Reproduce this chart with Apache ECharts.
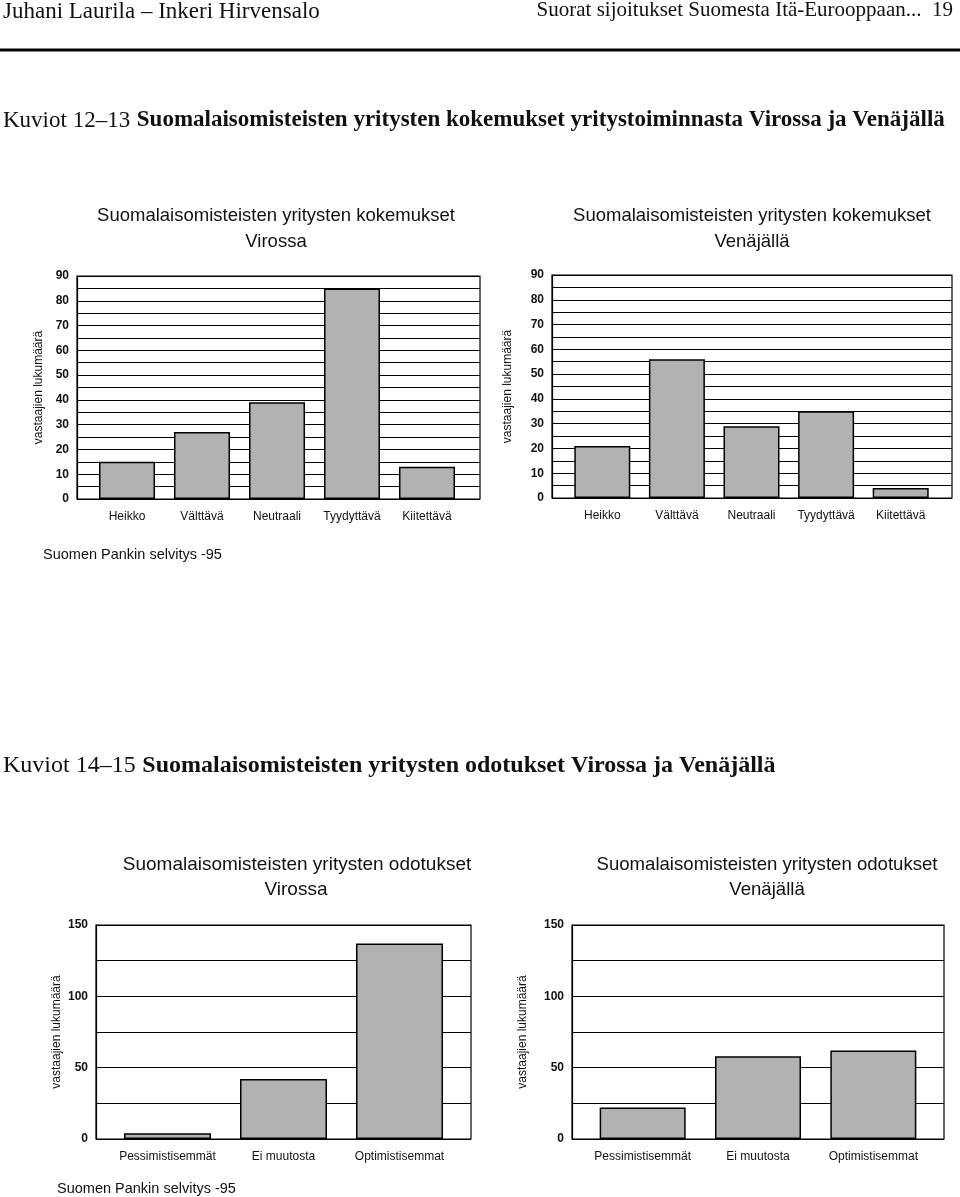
<!DOCTYPE html>
<html><head><meta charset="utf-8">
<script src="https://cdn.jsdelivr.net/npm/echarts@6/dist/echarts.min.js"></script>
<style>html,body{margin:0;padding:0;background:#fff}#c{width:960px;height:1197px}</style>
</head><body><div id="c"></div>
<script>
// ---- data ----
const expCategories = ['Heikko', 'Välttävä', 'Neutraali', 'Tyydyttävä', 'Kiitettävä'];
const expViro = [15, 27, 39, 85, 13];
const expVenaja = [21, 56, 29, 35, 4];
const outCategories = ['Pessimistisemmät', 'Ei muutosta', 'Optimistisemmat'];
const outViro = [4, 42, 137];
const outVenaja = [22, 58, 62];
const expAxis = { max: 90, grid: 5, label: 10 };
const outAxis = { max: 150, grid: 25, label: 50 };
const yName = 'vastaajien lukumäärä';

const chart = echarts.init(document.getElementById('c'));
const SANS = '"Liberation Sans", Arial, sans-serif';
const SERIF = '"Liberation Serif", "Times New Roman", serif';

// layout of the four panels
const panels = [
  { cats: expCategories, vals: expViro, ax: expAxis, frame: [77, 276, 403, 223], bars: [89.5, 375], barW: 56, nameGap: 32 },
  { cats: expCategories, vals: expVenaja, ax: expAxis, frame: [552, 275, 400, 223], bars: [565, 373], barW: 56, nameGap: 38 },
  { cats: outCategories, vals: outViro, ax: outAxis, frame: [96, 925, 375, 214], bars: [109.5, 348], barW: 87, nameGap: 33 },
  { cats: outCategories, vals: outVenaja, ax: outAxis, frame: [572, 925, 372, 214], bars: [585, 346], barW: 86, nameGap: 43 }
];

const grid = [], xAxis = [], yAxis = [], series = [];
panels.forEach((p, i) => {
  const [l, t, w, h] = p.frame;
  grid.push({ left: l, top: t, width: w, height: h, show: true, borderColor: '#000', borderWidth: 1.2, backgroundColor: 'transparent' });
  grid.push({ left: p.bars[0], top: t, width: p.bars[1], height: h });
  const gf = 2 * i, gb = 2 * i + 1;
  xAxis.push({ gridIndex: gf, type: 'category', data: [''], show: false });
  xAxis.push({ gridIndex: gb, type: 'category', data: p.cats, axisLine: { show: false }, axisTick: { show: false },
    axisLabel: { interval: 0, hideOverlap: false, margin: 12, fontSize: 12, color: '#111', fontFamily: SANS } });
  yAxis.push({ gridIndex: gf, type: 'value', min: 0, max: p.ax.max, interval: p.ax.grid,
    name: yName, nameLocation: 'middle', nameGap: p.nameGap, nameRotate: 90,
    nameTextStyle: { fontSize: 12, color: '#111', fontFamily: SANS },
    axisLine: { show: true, lineStyle: { color: '#000', width: 1.2 } },
    axisTick: { show: false },
    axisLabel: { margin: 8, fontSize: 12, color: '#111', fontFamily: SANS, fontWeight: 'bold',
      formatter: v => (v % p.ax.label === 0 ? String(v) : '') },
    splitLine: { show: true, lineStyle: { color: '#000', width: 1.2 } } });
  yAxis.push({ gridIndex: gb, type: 'value', min: 0, max: p.ax.max, show: false, splitLine: { show: false } });
  series.push({ type: 'bar', xAxisIndex: gb, yAxisIndex: gb, data: p.vals, barWidth: p.barW,
    itemStyle: { color: '#b2b2b2', borderColor: '#000', borderWidth: 1.5 }, silent: true, animation: false });
});

function t(x, y, text, size) {
  return { type: 'text', x: x, y: y, style: { text: text, fontSize: size, fontFamily: SANS, fill: '#111', textAlign: 'center' } };
}

const graphic = [
  { type: 'text', x: 3, y: 0, style: { text: 'Juhani Laurila – Inkeri Hirvensalo', fontSize: 23, fontFamily: SERIF, fill: '#111' } },
  { type: 'text', x: 953, y: 0, style: { text: 'Suorat sijoitukset Suomesta Itä-Eurooppaan...  19', fontSize: 21, fontFamily: SERIF, fill: '#111', textAlign: 'right' } },
  { type: 'line', shape: { x1: 0, y1: 50, x2: 960, y2: 50 }, style: { stroke: '#000', lineWidth: 3 } },
  { type: 'text', x: 3, y: 109, style: { text: '{a|Kuviot 12–13}  {b|Suomalaisomisteisten yritysten kokemukset yritystoiminnasta Virossa ja Venäjällä}',
      rich: { a: { fontSize: 23, fontFamily: SERIF, fill: '#111' }, b: { fontSize: 23, fontFamily: SERIF, fontWeight: 'bold', fill: '#111' } } } },
  { type: 'text', x: 3, y: 754, style: { text: '{a|Kuviot 14–15}  {b|Suomalaisomisteisten yritysten odotukset Virossa ja Venäjällä}',
      rich: { a: { fontSize: 24, fontFamily: SERIF, fill: '#111' }, b: { fontSize: 24, fontFamily: SERIF, fontWeight: 'bold', fill: '#111' } } } },
  t(276, 206, 'Suomalaisomisteisten yritysten kokemukset', 18.5),
  t(276, 232, 'Virossa', 18.5),
  t(752, 206, 'Suomalaisomisteisten yritysten kokemukset', 18.5),
  t(752, 232, 'Venäjällä', 18.5),
  t(297, 855, 'Suomalaisomisteisten yritysten odotukset', 19),
  t(296, 880, 'Virossa', 19),
  t(767, 855, 'Suomalaisomisteisten yritysten odotukset', 18.6),
  t(767, 880, 'Venäjällä', 18.6),
  { type: 'text', x: 43, y: 547, style: { text: 'Suomen Pankin selvitys -95', fontSize: 14.5, fontFamily: SANS, fill: '#111' } },
  { type: 'text', x: 57, y: 1181, style: { text: 'Suomen Pankin selvitys -95', fontSize: 14.5, fontFamily: SANS, fill: '#111' } }
];

chart.setOption({ animation: false, backgroundColor: '#fff', grid, xAxis, yAxis, series, graphic });
</script>
</body></html>
